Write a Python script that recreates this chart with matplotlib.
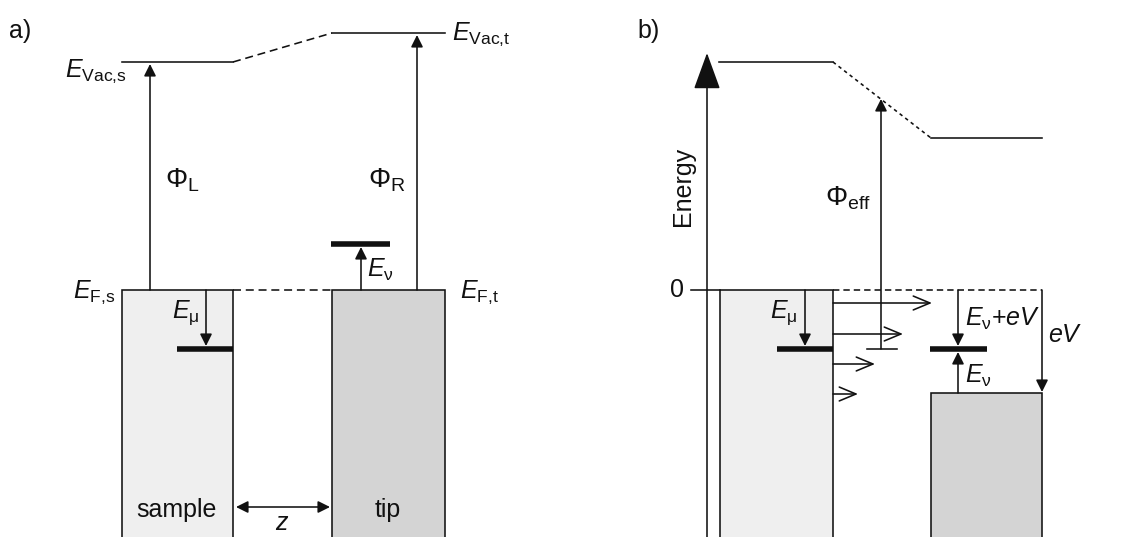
import matplotlib
matplotlib.use("Agg")
import matplotlib.pyplot as plt
from matplotlib.patches import Rectangle

plt.rcParams['font.family'] = ['Liberation Sans', 'DejaVu Sans']
plt.rcParams['mathtext.fontset'] = 'custom'
plt.rcParams['mathtext.rm'] = 'Liberation Sans'
plt.rcParams['mathtext.it'] = 'Liberation Sans:italic'
plt.rcParams['mathtext.bf'] = 'Liberation Sans:bold'

# energy levels (pixel rows, smaller = higher energy)
# panel a)
vac_a = [62, 33]          # E_Vac,s, E_Vac,t
fermi_a = 290             # common Fermi level
mu_level_a = 349          # sample state E_mu
nu_level_a = 244          # tip state E_nu
# panel b)
vac_b = [62, 138]         # vacuum level left / right under bias
fermi_b = 290             # energy zero
mu_level_b = 349
nu_level_b = 349
tip_fermi_b = 393         # tip Fermi level shifted by eV
tunnel_rows = [303, 334, 364, 394]
tunnel_reach = [932, 903, 875, 858]
phi_eff_top = 99

# layout columns
sample_a = (122, 233)
tip_a = (332, 445)
sample_b = (720, 833)
tip_b = (931, 1042)
axis_x = 707
bottom = 560

LW = 1.15
K = '#111111'
FS = 18

fig = plt.figure(figsize=(11.22, 5.37), dpi=100)
ax = fig.add_axes([0, 0, 1, 1])
ax.set_xlim(0, 1122)
ax.set_ylim(537, 0)
ax.axis('off')


def arrow(x0, y0, x1, y1, style='-|>', ms=18, lw=LW):
    ax.annotate('', xy=(x1, y1), xytext=(x0, y0),
                arrowprops=dict(arrowstyle=style, mutation_scale=ms, lw=lw,
                                color=K, shrinkA=0, shrinkB=0))


def box(x0, x1, top, fc):
    ax.add_patch(Rectangle((x0, top), x1 - x0, bottom - top, fc=fc,
                           ec=K, lw=LW, zorder=1))


def txt(x, y, s, **kw):
    kw.setdefault('ha', 'left')
    kw.setdefault('va', 'baseline')
    kw.setdefault('fontsize', FS)
    ax.text(x, y, s, color=K, **kw)


# ---------------- panel a ----------------
txt(9, 38, 'a)')
box(*sample_a, fermi_a, '#efefef')
box(*tip_a, fermi_a, '#d4d4d4')
ax.plot([sample_a[1], tip_a[0]], [fermi_a, fermi_a], color=K, lw=LW,
        ls=(0, (5, 3)))
ax.plot([sample_a[0], sample_a[1]], [vac_a[0], vac_a[0]], color=K, lw=LW)
ax.plot([sample_a[1], tip_a[0]], [vac_a[0], vac_a[1]], color=K, lw=LW,
        ls=(0, (5, 3)))
ax.plot([tip_a[0], tip_a[1]], [vac_a[1], vac_a[1]], color=K, lw=LW)

arrow(150, fermi_a, 150, vac_a[0] + 2)
arrow(417, fermi_a, 417, vac_a[1] + 2)
ax.plot([177, sample_a[1]], [mu_level_a, mu_level_a], color=K, lw=4,
        solid_capstyle='butt')
arrow(206, fermi_a, 206, mu_level_a - 3)
ax.plot([331, 390], [nu_level_a, nu_level_a], color=K, lw=4,
        solid_capstyle='butt')
arrow(361, fermi_a, 361, nu_level_a + 3)
arrow(sample_a[1] + 3, 507, tip_a[0] - 2, 507, style='<|-|>')

txt(65, 77, r'$E_{\mathrm{Vac{,}s}}$')
txt(452, 40, r'$E_{\mathrm{Vac{,}t}}$')
txt(73, 298, r'$E_{\mathrm{F{,}s}}$')
txt(460, 298, r'$E_{\mathrm{F{,}t}}$')
txt(165, 188, r'$\Phi_{\mathrm{L}}$', fontsize=20)
txt(368, 188, r'$\Phi_{\mathrm{R}}$', fontsize=20)
txt(367, 277, r'$E_{\mathrm{ν}}$')
txt(172, 318, r'$E_{\mathrm{μ}}$')
txt(176, 517, 'sample', ha='center')
txt(388, 517, 'tip', ha='center')
txt(282, 530, r'$z$', ha='center')

# ---------------- panel b ----------------
txt(637, 38, 'b)')
box(*sample_b, fermi_b, '#efefef')
box(*tip_b, tip_fermi_b, '#d4d4d4')
arrow(axis_x, bottom, axis_x, 53, style='-|>,head_length=0.55,head_width=0.2',
      ms=42)
ax.plot([691, sample_b[0]], [fermi_b, fermi_b], color=K, lw=LW)
ax.plot([sample_b[1], tip_b[1]], [fermi_b, fermi_b], color=K, lw=LW,
        ls=(0, (4, 2.5)))
ax.plot([719, sample_b[1]], [vac_b[0], vac_b[0]], color=K, lw=LW)
ax.plot([sample_b[1], tip_b[0]], [vac_b[0], vac_b[1]], color=K, lw=LW,
        ls=(0, (2.2, 2.2)))
ax.plot([tip_b[0], tip_b[1]], [vac_b[1], vac_b[1]], color=K, lw=LW)

ax.plot([777, sample_b[1]], [mu_level_b, mu_level_b], color=K, lw=4,
        solid_capstyle='butt')
arrow(805, fermi_b, 805, mu_level_b - 3)
ax.plot([930, 987], [nu_level_b, nu_level_b], color=K, lw=4,
        solid_capstyle='butt')
arrow(958, fermi_b, 958, nu_level_b - 3)
arrow(958, tip_fermi_b, 958, nu_level_b + 3)
arrow(tip_b[1], fermi_b, tip_b[1], tip_fermi_b - 1)

ax.plot([867, 897], [mu_level_b, mu_level_b], color=K, lw=LW)
arrow(881, mu_level_b, 881, phi_eff_top)
for row, reach in zip(tunnel_rows, tunnel_reach):
    arrow(sample_b[1], row, reach, row,
          style='->,head_length=0.6,head_width=0.25', ms=20)

txt(683, 186, 'Energy', ha='center', va='center', rotation=90)
txt(677, 290, '0', ha='center', va='center')
txt(825, 205, r'$\Phi_{\mathrm{eff}}$', fontsize=20)
txt(770, 318, r'$E_{\mathrm{μ}}$')
txt(965, 326, r'$E_{\mathrm{ν}}\mathrm{+}eV$')
txt(965, 383, r'$E_{\mathrm{ν}}$')
txt(1048, 342, r'$eV$')

fig.savefig('out.png', dpi=100)
